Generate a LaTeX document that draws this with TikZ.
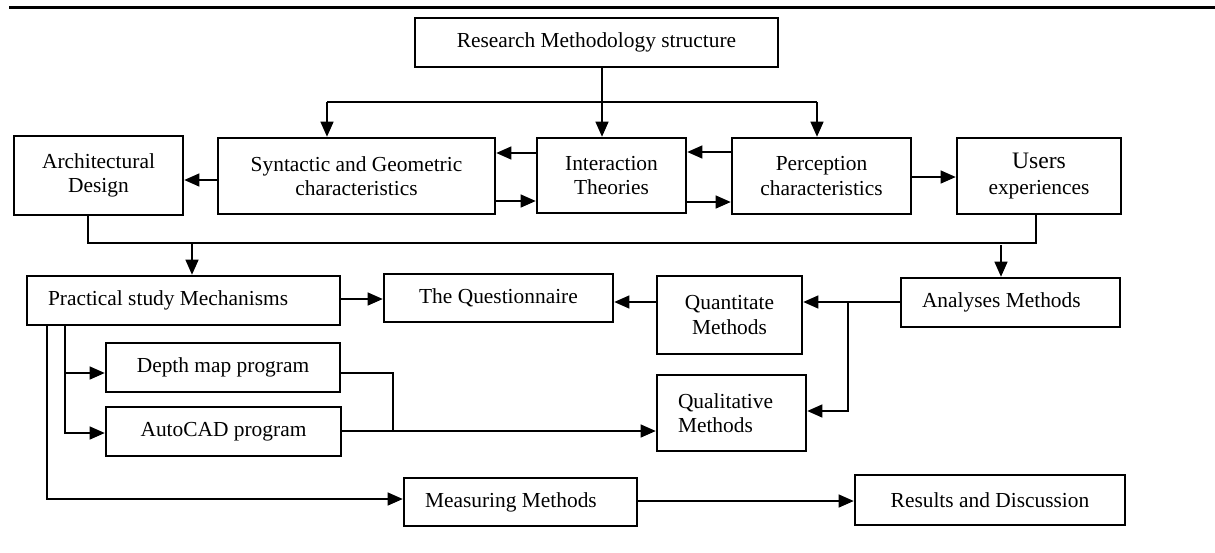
\documentclass[tikz,border=0pt]{standalone}
\usepackage{fontspec}
\setmainfont{Liberation Serif}
\usetikzlibrary{arrows.meta}
\begin{document}
\begin{tikzpicture}[x=0.5pt,y=-0.5pt,
  bx/.style 2 args={draw, line width=1.3pt, minimum width=#1*0.5pt, minimum height=#2*0.5pt,
    inner sep=0pt, align=center, font=\fontsize{10.7pt}{12.3pt}\selectfont},
  arr/.style={line width=0.6pt, -{Triangle[length=7.5pt,width=6.5pt]}},
  ln/.style={line width=0.6pt}]
\useasboundingbox (0,0) rectangle (1215,552);
\draw[line width=1.8pt] (9,7.5) -- (1215,7.5);

% nodes
\node[bx={363}{49}] (rm) at (596.5,42.5) {Research Methodology structure};
\node[bx={169}{79}] (ad) at (98.5,175.5) {Architectural\\Design};
\node[bx={277}{76}] (sg) at (356.5,176) {Syntactic and Geometric\\characteristics};
\node[bx={149}{75}] (it) at (611.5,175.5) {Interaction\\Theories};
\node[bx={179}{76}] (pc) at (821.5,176) {Perception\\characteristics};
\node[bx={164}{76}] (ue) at (1039,176) {{\fontsize{11.8pt}{13pt}\selectfont Users}\\[1pt]experiences};
\node[bx={313}{49}, text width=135.5pt, inner xsep=10.5pt, align=flush left] (ps) at (183.5,300.5) {Practical study Mechanisms};
\node[bx={229}{48}] (tq) at (498.5,298) {The Questionnaire};
\node[bx={145}{78}] (qn) at (729.5,315) {Quantitate\\Methods};
\node[bx={219}{49}, text width=88.5pt, inner xsep=10.5pt, align=flush left] (am) at (1010.5,302.5) {Analyses Methods};
\node[bx={234}{49}] (dm) at (223,367.5) {Depth map program};
\node[bx={235}{49}] (ac) at (223.5,431.5) {AutoCAD program};
\node[bx={149}{76}, text width=53.5pt, inner xsep=10.5pt, align=flush left] (ql) at (731.5,413) {Qualitative\\Methods};
\node[bx={233}{48}, text width=95.5pt, inner xsep=10.5pt, align=flush left] (mm) at (520.5,502) {Measuring Methods};
\node[bx={270}{50}] (rd) at (990,500) {Results and Discussion};

% top connectors
\draw[arr] (602,0 |- rm.south) -- (602,0 |- it.north);
\coordinate (ja) at (327,102);
\coordinate (jb) at (817,102);
\draw[ln] (ja) -- (jb);
\draw[arr] (ja) -- (ja |- sg.north);
\draw[arr] (jb) -- (jb |- pc.north);

% second row connectors
\draw[arr] (sg.west |- 0,180) -- (ad.east |- 0,180);
\draw[arr] (it.west |- 0,153) -- (sg.east |- 0,153);
\draw[arr] (sg.east |- 0,201) -- (it.west |- 0,201);
\draw[arr] (pc.west |- 0,152) -- (it.east |- 0,152);
\draw[arr] (it.east |- 0,202) -- (pc.west |- 0,202);
\draw[arr] (pc.east |- 0,177) -- (ue.west |- 0,177);

% collector line
\coordinate (l1) at (88,243);
\coordinate (l2) at (1036,243);
\draw[ln] (l1 |- ad.south) -- (l1) -- (l2) -- (l2 |- ue.south);
\coordinate (d1) at (192,243);
\coordinate (d2) at (1001,245);
\draw[arr] (d1) -- (d1 |- ps.north);
\draw[arr] (d2) -- (d2 |- am.north);

% third row
\draw[arr] (ps.east |- 0,299) -- (tq.west |- 0,299);
\draw[arr] (qn.west |- 0,302) -- (tq.east |- 0,302);
\draw[arr] (am.west |- 0,302) -- (qn.east |- 0,302);
\coordinate (br) at (848,302);
\draw[arr] (br) |- (ql.east |- 0,411);

% practical branches
\coordinate (p1) at (65,0 |- ps.south);
\coordinate (p2) at (47,0 |- ps.south);
\draw[arr] (p1) |- (ac.west |- 0,433);
\draw[arr] (65,373) -- (dm.west |- 0,373);
\draw[arr] (p2) |- (mm.west |- 0,499);

% programs to qualitative
\coordinate (q1) at (393,373);
\draw[ln] (dm.east |- q1) -- (q1) -- (393,431);
\draw[arr] (ac.east |- 0,431) -- (ql.west |- 0,431);

% measuring to results
\draw[arr] (mm.east |- 0,501) -- (rd.west |- 0,501);
\end{tikzpicture}
\end{document}
